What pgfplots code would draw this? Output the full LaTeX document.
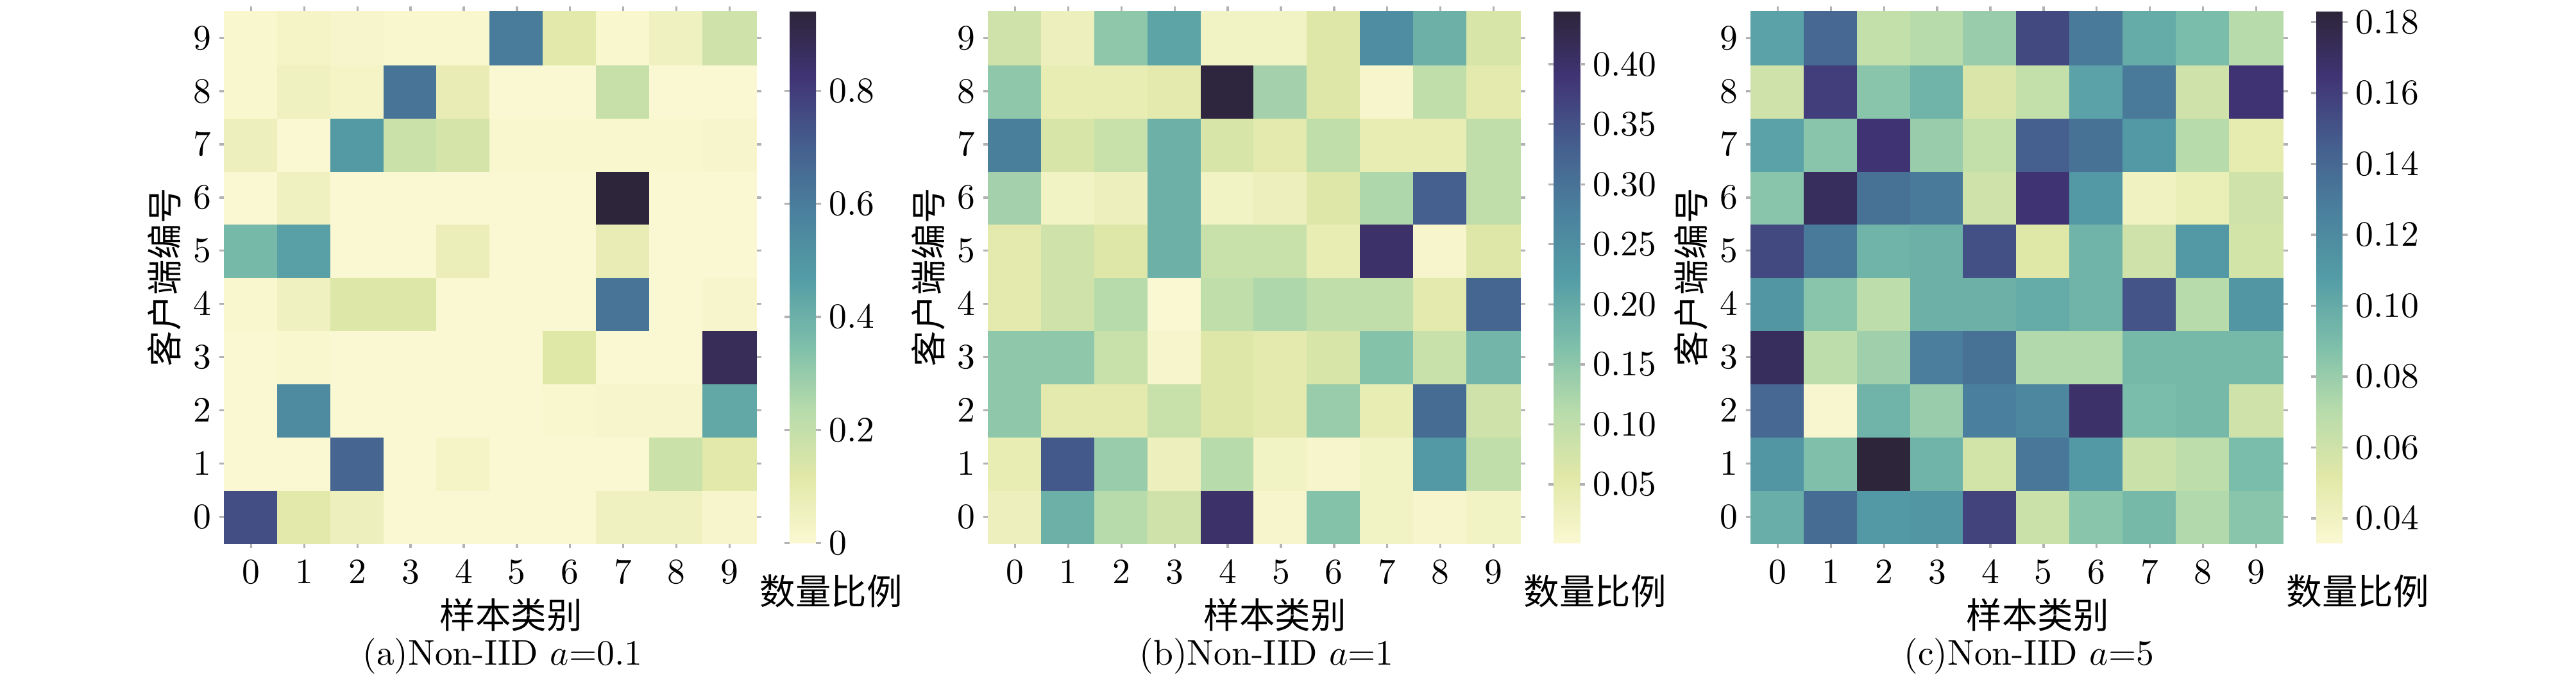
\documentclass[border=0pt]{standalone}
\usepackage{fontspec}
\usepackage{pgfplots}
\pgfplotsset{compat=1.18}
\newfontfamily\cjk{Noto Sans CJK SC}

\pgfplotsset{
  colormap={sns}{rgb255=(250,248,210) rgb255=(225,232,168) rgb255=(183,219,171)
    rgb255=(124,190,170) rgb255=(84,156,166) rgb255=(74,128,157)
    rgb255=(69,94,142) rgb255=(64,52,117) rgb255=(45,37,58)},
  hm/.style={
    at={(#1,38.9pt)}, anchor=south west,
    scale only axis, width=149.2pt, height=149.2pt,
    xmin=-0.5, xmax=9.5, ymin=-0.5, ymax=9.5,
    xtick={0,...,9}, ytick={0,...,9},
    axis line style={draw=none},
    tick align=outside, major tick length=1.4pt,
    tick style={gray!60, line width=0.6pt},
    yticklabel style={xshift=1.2pt},
    clip=false,
    colormap name=sns,
    colorbar,
    colorbar shift/.style={},
    xlabel={\cjk 样本类别},
    ylabel={\cjk 客户端编号},
    xlabel style={at={(axis description cs:0.539,-0.135)}, anchor=center},
    ylabel style={at={(axis description cs:-0.113,0.5)}, anchor=center},
  },
  cb/.style={
    at={(parent axis.north east)}, anchor=north west, xshift=9.4pt,
    scale only axis, width=7.4pt, height=149.2pt,
    axis line style={draw=none},
    tick align=outside, major tick length=1.4pt,
    ytick style={gray!60, line width=0.6pt},
    yticklabel style={xshift=-1.3pt},
  },
}

\begin{document}
\begin{tikzpicture}
\useasboundingbox (0,0) rectangle (722.9pt,191.3pt);

% (a) a=0.1
\begin{axis}[hm=63pt, point meta min=0, point meta max=0.94,
  colorbar style={cb, ytick={0,0.2,0.4,0.6,0.8}}]
\addplot[matrix plot*, mesh/cols=10, point meta=explicit] table[meta=c, row sep=\\] {
x y c\\
0 0 0.75\\ 1 0 0.11\\ 2 0 0.06\\ 3 0 0.00\\ 4 0 0.00\\ 5 0 0.00\\ 6 0 0.00\\ 7 0 0.05\\ 8 0 0.05\\ 9 0 0.02\\
0 1 0.00\\ 1 1 0.00\\ 2 1 0.68\\ 3 1 0.00\\ 4 1 0.03\\ 5 1 0.00\\ 6 1 0.00\\ 7 1 0.00\\ 8 1 0.18\\ 9 1 0.11\\
0 2 0.00\\ 1 2 0.54\\ 2 2 0.00\\ 3 2 0.00\\ 4 2 0.00\\ 5 2 0.00\\ 6 2 0.01\\ 7 2 0.02\\ 8 2 0.02\\ 9 2 0.43\\
0 3 0.00\\ 1 3 0.01\\ 2 3 0.00\\ 3 3 0.00\\ 4 3 0.00\\ 5 3 0.00\\ 6 3 0.12\\ 7 3 0.00\\ 8 3 0.00\\ 9 3 0.88\\
0 4 0.01\\ 1 4 0.05\\ 2 4 0.13\\ 3 4 0.13\\ 4 4 0.00\\ 5 4 0.00\\ 6 4 0.00\\ 7 4 0.63\\ 8 4 0.00\\ 9 4 0.02\\
0 5 0.37\\ 1 5 0.46\\ 2 5 0.00\\ 3 5 0.00\\ 4 5 0.07\\ 5 5 0.00\\ 6 5 0.00\\ 7 5 0.08\\ 8 5 0.00\\ 9 5 0.00\\
0 6 0.00\\ 1 6 0.05\\ 2 6 0.00\\ 3 6 0.00\\ 4 6 0.00\\ 5 6 0.00\\ 6 6 0.00\\ 7 6 0.94\\ 8 6 0.00\\ 9 6 0.00\\
0 7 0.06\\ 1 7 0.00\\ 2 7 0.48\\ 3 7 0.18\\ 4 7 0.15\\ 5 7 0.01\\ 6 7 0.01\\ 7 7 0.01\\ 8 7 0.01\\ 9 7 0.02\\
0 8 0.01\\ 1 8 0.05\\ 2 8 0.03\\ 3 8 0.63\\ 4 8 0.08\\ 5 8 0.00\\ 6 8 0.00\\ 7 8 0.19\\ 8 8 0.00\\ 9 8 0.00\\
0 9 0.01\\ 1 9 0.03\\ 2 9 0.02\\ 3 9 0.01\\ 4 9 0.01\\ 5 9 0.60\\ 6 9 0.11\\ 7 9 0.01\\ 8 9 0.05\\ 9 9 0.17\\
};
\node at (axis description cs:1.141,-0.0905) {\cjk 数量比例};
\node at (axis description cs:0.523,-0.2125) {(a)Non-IID $a$=0.1};
\end{axis}

% (b) a=1
\begin{axis}[hm=277.4pt, point meta min=0.001, point meta max=0.444,
  colorbar style={cb, ytick={0.05,0.10,...,0.40},
    yticklabel style={/pgf/number format/.cd, fixed, fixed zerofill, precision=2}}]
\addplot[matrix plot*, mesh/cols=10, point meta=explicit] table[meta=c, row sep=\\] {
x y c\\
0 0 0.03\\ 1 0 0.19\\ 2 0 0.11\\ 3 0 0.08\\ 4 0 0.40\\ 5 0 0.01\\ 6 0 0.16\\ 7 0 0.02\\ 8 0 0.01\\ 9 0 0.02\\
0 1 0.04\\ 1 1 0.34\\ 2 1 0.14\\ 3 1 0.03\\ 4 1 0.11\\ 5 1 0.02\\ 6 1 0.01\\ 7 1 0.02\\ 8 1 0.23\\ 9 1 0.10\\
0 2 0.15\\ 1 2 0.05\\ 2 2 0.05\\ 3 2 0.09\\ 4 2 0.06\\ 5 2 0.05\\ 6 2 0.14\\ 7 2 0.04\\ 8 2 0.31\\ 9 2 0.08\\
0 3 0.15\\ 1 3 0.15\\ 2 3 0.09\\ 3 3 0.01\\ 4 3 0.06\\ 5 3 0.05\\ 6 3 0.07\\ 7 3 0.16\\ 8 3 0.09\\ 9 3 0.18\\
0 4 0.05\\ 1 4 0.08\\ 2 4 0.11\\ 3 4 0.00\\ 4 4 0.10\\ 5 4 0.12\\ 6 4 0.10\\ 7 4 0.10\\ 8 4 0.05\\ 9 4 0.32\\
0 5 0.05\\ 1 5 0.08\\ 2 5 0.06\\ 3 5 0.19\\ 4 5 0.09\\ 5 5 0.09\\ 6 5 0.04\\ 7 5 0.40\\ 8 5 0.01\\ 9 5 0.06\\
0 6 0.13\\ 1 6 0.02\\ 2 6 0.03\\ 3 6 0.19\\ 4 6 0.02\\ 5 6 0.03\\ 6 6 0.06\\ 7 6 0.12\\ 8 6 0.33\\ 9 6 0.10\\
0 7 0.28\\ 1 7 0.07\\ 2 7 0.09\\ 3 7 0.19\\ 4 7 0.07\\ 5 7 0.05\\ 6 7 0.10\\ 7 7 0.04\\ 8 7 0.04\\ 9 7 0.10\\
0 8 0.15\\ 1 8 0.04\\ 2 8 0.04\\ 3 8 0.05\\ 4 8 0.44\\ 5 8 0.13\\ 6 8 0.06\\ 7 8 0.01\\ 8 8 0.10\\ 9 8 0.05\\
0 9 0.08\\ 1 9 0.03\\ 2 9 0.15\\ 3 9 0.21\\ 4 9 0.02\\ 5 9 0.02\\ 6 9 0.06\\ 7 9 0.25\\ 8 9 0.19\\ 9 9 0.07\\
};
\node at (axis description cs:1.141,-0.0905) {\cjk 数量比例};
\node at (axis description cs:0.523,-0.2125) {(b)Non-IID $a$=1};
\end{axis}

% (c) a=5
\begin{axis}[hm=491.4pt, point meta min=0.033, point meta max=0.183,
  colorbar style={cb, ytick={0.04,0.06,...,0.18},
    yticklabel style={/pgf/number format/.cd, fixed, fixed zerofill, precision=2}}]
\addplot[matrix plot*, mesh/cols=10, point meta=explicit] table[meta=c, row sep=\\] {
x y c\\
0 0 0.098\\ 1 0 0.138\\ 2 0 0.110\\ 3 0 0.112\\ 4 0 0.158\\ 5 0 0.062\\ 6 0 0.085\\ 7 0 0.092\\ 8 0 0.072\\ 9 0 0.085\\
0 1 0.112\\ 1 1 0.088\\ 2 1 0.183\\ 3 1 0.095\\ 4 1 0.058\\ 5 1 0.132\\ 6 1 0.110\\ 7 1 0.062\\ 8 1 0.068\\ 9 1 0.090\\
0 2 0.140\\ 1 2 0.035\\ 2 2 0.095\\ 3 2 0.080\\ 4 2 0.127\\ 5 2 0.122\\ 6 2 0.168\\ 7 2 0.090\\ 8 2 0.092\\ 9 2 0.060\\
0 3 0.172\\ 1 3 0.068\\ 2 3 0.078\\ 3 3 0.128\\ 4 3 0.135\\ 5 3 0.072\\ 6 3 0.072\\ 7 3 0.092\\ 8 3 0.092\\ 9 3 0.092\\
0 4 0.112\\ 1 4 0.085\\ 2 4 0.068\\ 3 4 0.097\\ 4 4 0.097\\ 5 4 0.100\\ 6 4 0.095\\ 7 4 0.150\\ 8 4 0.070\\ 9 4 0.112\\
0 5 0.155\\ 1 5 0.130\\ 2 5 0.095\\ 3 5 0.097\\ 4 5 0.152\\ 5 5 0.052\\ 6 5 0.095\\ 7 5 0.060\\ 8 5 0.110\\ 9 5 0.058\\
0 6 0.085\\ 1 6 0.172\\ 2 6 0.135\\ 3 6 0.130\\ 4 6 0.060\\ 5 6 0.165\\ 6 6 0.110\\ 7 6 0.040\\ 8 6 0.045\\ 9 6 0.060\\
0 7 0.105\\ 1 7 0.085\\ 2 7 0.165\\ 3 7 0.080\\ 4 7 0.065\\ 5 7 0.145\\ 6 7 0.135\\ 7 7 0.110\\ 8 7 0.070\\ 9 7 0.048\\
0 8 0.060\\ 1 8 0.160\\ 2 8 0.085\\ 3 8 0.095\\ 4 8 0.055\\ 5 8 0.065\\ 6 8 0.105\\ 7 8 0.130\\ 8 8 0.060\\ 9 8 0.165\\
0 9 0.105\\ 1 9 0.140\\ 2 9 0.065\\ 3 9 0.070\\ 4 9 0.080\\ 5 9 0.155\\ 6 9 0.130\\ 7 9 0.100\\ 8 9 0.090\\ 9 9 0.070\\
};
\node at (axis description cs:1.141,-0.0905) {\cjk 数量比例};
\node at (axis description cs:0.523,-0.2125) {(c)Non-IID $a$=5};
\end{axis}
\end{tikzpicture}
\end{document}
